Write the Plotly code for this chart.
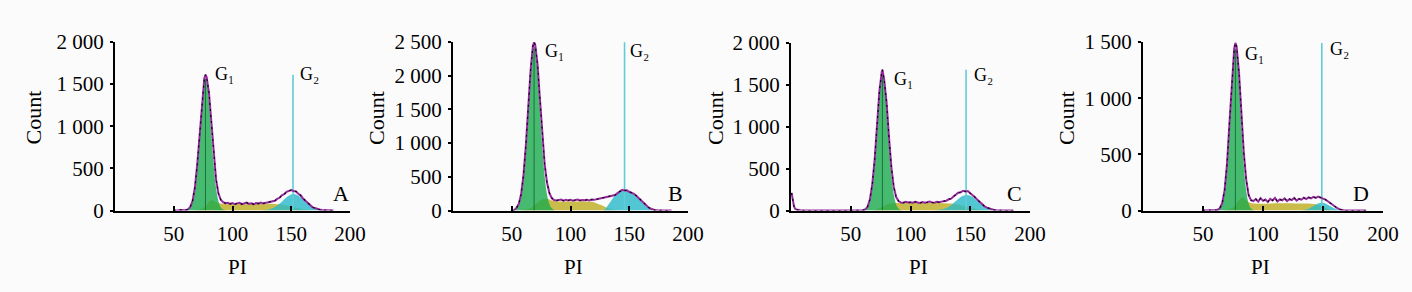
import plotly.graph_objects as go

# ---------------- DATA ----------------
PANELS = ["A", "B", "C", "D"]
Y_MAX = [2000, 2500, 2000, 1500]
Y_TICKVALS = [[0, 500, 1000, 1500, 2000],
              [0, 500, 1000, 1500, 2000, 2500],
              [0, 500, 1000, 1500, 2000],
              [0, 500, 1000, 1500]]
Y_TICKTEXT = [["0", "500", "1 000", "1 500", "2 000"],
              ["0", "500", "1 000", "1 500", "2 000", "2 500"],
              ["0", "500", "1 000", "1 500", "2 000"],
              ["0", "500", "1 000", "1 500"]]
X_TICKVALS = [50, 100, 150, 200]
X_TICKTEXT = ["50", "100", "150", "200"]
G1_MEAN = [77, 69, 76.5, 77]
G2_MEAN = [151.5, 146, 146.5, 149]
G1_LABEL = "G₁"
G2_LABEL = "G₂"

# Panel A
A_tot_x = [50, 52, 54, 56, 58, 60, 62, 64, 66, 68, 70, 72, 74, 76, 77, 78, 80, 82, 84, 86, 88, 90, 92, 94,
           96, 98, 100, 102, 104, 106, 108, 110, 112, 114, 116, 118, 120, 122, 124, 126, 128, 130, 132,
           134, 136, 138, 140, 142, 144, 146, 148, 150, 152, 154, 156, 158, 160, 162, 164, 166, 168, 170,
           172, 174, 176, 178, 180, 182, 184, 186]
A_tot_y = [0, 6, 4, 7, 3, 4, 13, 41, 115, 273, 547, 924, 1310, 1568, 1612, 1585, 1394, 1038, 655, 370, 205,
           128, 98, 86, 92, 78, 88, 74, 85, 91, 76, 84, 93, 79, 86, 74, 89, 82, 94, 83, 91, 94, 99, 110,
           116, 137, 151, 180, 193, 221, 228, 242, 231, 226, 199, 180, 143, 118, 85, 65, 41, 29, 17, 11, 5,
           3, 2, 1, 0, 0]
A_g1_x = [60, 62, 64, 66, 68, 70, 72, 74, 76, 77, 78, 80, 82, 84, 86, 88, 90, 92, 94]
A_g1_y = [3, 12, 40, 113, 270, 540, 910, 1287, 1531, 1565, 1531, 1287, 910, 540, 270, 113, 40, 12, 3]
A_s_x = [66, 70, 74, 77, 80, 82, 84, 86, 88, 92, 100, 110, 120, 130, 136, 140, 144, 148, 152, 156, 160,
         164, 168, 172, 176]
A_s_y = [1, 6, 21, 48, 105, 125, 112, 95, 86, 81, 80, 80, 80, 79, 77, 73, 65, 54, 40, 26, 15, 7, 3, 1, 0]
A_g2_x = [122, 126, 130, 134, 138, 142, 146, 149, 152, 155, 158, 162, 166, 170, 174, 178, 182]
A_g2_y = [1, 3, 10, 26, 58, 105, 156, 184, 195, 184, 156, 105, 58, 26, 10, 3, 1]

# Panel B
B_tot_x = [50, 52, 54, 56, 58, 60, 62, 64, 66, 68, 69, 70, 72, 74, 76, 78, 80, 82, 84, 86, 88, 90, 92, 94,
           96, 98, 100, 102, 104, 106, 108, 110, 112, 114, 116, 118, 120, 122, 124, 126, 128, 130, 132,
           134, 136, 138, 140, 142, 144, 146, 148, 150, 152, 154, 156, 158, 160, 162, 164, 166, 168, 170,
           172, 174, 176, 180, 186]
B_tot_y = [0, 4, 38, 100, 245, 525, 965, 1525, 2075, 2440, 2498, 2455, 2160, 1650, 1115, 688, 415, 262,
           185, 156, 148, 150, 162, 145, 158, 149, 160, 146, 155, 163, 148, 157, 151, 160, 149, 162, 158,
           170, 176, 183, 190, 197, 203, 210, 218, 230, 258, 284, 306, 296, 300, 278, 266, 248, 220, 186,
           148, 112, 80, 52, 30, 14, 5, 2, 0, 0, 0]
B_g1_x = [52, 54, 56, 58, 60, 62, 64, 66, 68, 69, 70, 72, 74, 76, 78, 80, 82, 84, 86]
B_g1_y = [9, 32, 95, 238, 513, 948, 1502, 2044, 2384, 2430, 2384, 2044, 1502, 948, 513, 238, 95, 32, 9]
B_s_x = [56, 60, 64, 67, 69, 72, 76, 80, 84, 88, 94, 104, 114, 118, 122, 126, 130, 134, 138, 142]
B_s_y = [1, 6, 22, 45, 70, 120, 165, 175, 150, 138, 135, 134, 132, 128, 108, 80, 48, 20, 6, 0]
B_g2_x = [128, 130, 132, 134, 136, 138, 140, 142, 144, 146, 148, 150, 152, 154, 156, 158, 160, 162, 164,
          166, 168, 170, 172, 174]
B_g2_y = [0, 30, 80, 130, 180, 222, 252, 280, 298, 292, 290, 272, 260, 242, 214, 182, 144, 108, 76, 49,
          27, 12, 4, 0]

# Panel C
C_tot_x = [0.5, 1.5, 2.5, 3.5, 5, 8, 12, 50, 52, 54, 56, 58, 60, 62, 64, 66, 68, 70, 72, 74, 76, 76.5, 78,
           80, 82, 84, 86, 88, 90, 92, 94, 96, 98, 100, 102, 104, 106, 108, 110, 112, 114, 116, 118, 120,
           122, 124, 126, 128, 130, 132, 134, 136, 138, 140, 142, 144, 146, 148, 150, 152, 154, 156, 158,
           160, 162, 164, 166, 168, 170, 172, 174, 176, 178, 186]
C_tot_y = [210, 120, 50, 20, 8, 3, 0, 0, 0, 2, 0, 1, 3, 12, 43, 130, 312, 607, 1026, 1432, 1660, 1680, 1560,
           1289, 877, 516, 281, 161, 112, 95, 92, 103, 95, 99, 92, 104, 96, 90, 101, 94, 99, 106, 97, 92,
           103, 99, 106, 110, 117, 134, 141, 168, 188, 212, 218, 236, 228, 232, 205, 184, 157, 127, 98, 72,
           50, 34, 22, 13, 7, 4, 2, 1, 0, 0]
C_g1_x = [60.5, 62.5, 64.5, 66.5, 68.5, 70.5, 72.5, 74.5, 76.5, 78.5, 80.5, 82.5, 84.5, 86.5, 88.5, 90.5,
          92.5]
C_g1_y = [4, 16, 54, 153, 359, 696, 1117, 1483, 1630, 1483, 1117, 696, 359, 153, 54, 16, 4]
C_s_x = [66, 70, 74, 76.5, 79, 82, 86, 90, 100, 115, 128, 134, 138, 142, 145, 147, 150, 154, 158, 162, 166,
         170]
C_s_y = [1, 7, 26, 45, 64, 80, 88, 90, 90, 90, 88, 83, 76, 64, 53, 45, 33, 20, 10, 4, 2, 0]
C_g2_x = [120, 123, 126, 129, 132, 135, 138, 141, 144, 147, 150, 153, 156, 159, 162, 165, 168, 171, 174]
C_g2_y = [2, 5, 12, 25, 46, 76, 112, 148, 175, 185, 175, 148, 112, 76, 46, 25, 12, 5, 2]

# Panel D
D_tot_x = [50, 52, 54, 56, 58, 60, 62, 64, 66, 68, 70, 72, 74, 76, 77, 78, 80, 82, 84, 86, 88, 90, 92, 94,
           96, 98, 100, 102, 104, 106, 108, 110, 112, 114, 116, 118, 120, 122, 124, 126, 128, 130, 132,
           134, 136, 138, 140, 142, 144, 146, 148, 150, 152, 154, 156, 158, 160, 162, 164, 166, 168, 170,
           186]
D_tot_y = [0, 0, 1, 0, 2, 2, 5, 20, 65, 181, 413, 770, 1165, 1440, 1492, 1460, 1228, 858, 515, 275, 138,
           92, 84, 102, 78, 110, 86, 97, 75, 104, 89, 112, 80, 99, 91, 108, 84, 101, 93, 112, 88, 104, 96,
           114, 101, 117, 108, 121, 112, 124, 116, 110, 97, 82, 66, 48, 33, 20, 10, 4, 1, 0, 0]
D_g1_x = [62, 64, 66, 68, 70, 72, 74, 76, 77, 78, 80, 82, 84, 86, 88, 90, 92]
D_g1_y = [4, 18, 63, 177, 406, 755, 1140, 1403, 1440, 1403, 1140, 755, 406, 177, 63, 18, 4]
D_s_x = [66, 70, 74, 77, 80, 83, 86, 89, 92, 100, 115, 130, 140, 145, 149, 152, 155, 158, 162]
D_s_y = [1, 5, 20, 45, 95, 115, 90, 68, 62, 60, 64, 62, 60, 52, 38, 25, 12, 5, 0]
D_g2_x = [133, 136, 139, 142, 145, 148, 149, 151, 154, 157, 160, 163, 166]
D_g2_y = [3, 9, 21, 39, 58, 69, 70, 67, 52, 33, 17, 7, 2]

TOTALS = [(A_tot_x, A_tot_y), (B_tot_x, B_tot_y), (C_tot_x, C_tot_y), (D_tot_x, D_tot_y)]
G1S = [(A_g1_x, A_g1_y), (B_g1_x, B_g1_y), (C_g1_x, C_g1_y), (D_g1_x, D_g1_y)]
SS = [(A_s_x, A_s_y), (B_s_x, B_s_y), (C_s_x, C_s_y), (D_s_x, D_s_y)]
G2S = [(A_g2_x, A_g2_y), (B_g2_x, B_g2_y), (C_g2_x, C_g2_y), (D_g2_x, D_g2_y)]

# ---------------- LAYOUT HELPERS ----------------
W, H = 1412, 292
def px(x):
    return x / W
def py(y):
    return 1 - y / H

X_DOM_PX = [(115, 350), (453, 688), (791, 1030), (1143, 1383)]
Y_TOP_PX = [42, 42, 43, 42]
BASE_PX = 210.5

COUNT_X = [32.5, 376, 715, 1066]
PI_X = [237, 573, 918, 1260]
LETTER_X = [340.5, 675.5, 1014, 1361]
G1_LAB = [(213, 73), (543, 50), (892, 78), (1243, 53)]
G2_LAB = [(298, 73), (628, 50), (972, 74), (1328, 48)]

FONT = "Liberation Serif"
S_COL = "rgb(202,188,74)"
G1_COL = "rgba(25,170,75,0.80)"
G2_COL = "rgba(40,185,200,0.80)"
TOT_COL = "rgb(150,40,160)"
G2LINE_COL = "rgb(95,205,215)"
G1LINE_COL = "rgb(25,115,60)"

fig = go.Figure()
layout = dict(
    width=W, height=H, margin=dict(l=0, r=0, t=0, b=0, autoexpand=False),
    paper_bgcolor="#fbfbfb", plot_bgcolor="rgba(0,0,0,0)",
    showlegend=False, font=dict(family=FONT, color="black"),
    annotations=[],
)

for i, name in enumerate(PANELS):
    xa = "x" if i == 0 else f"x{i+1}"
    ya = "y" if i == 0 else f"y{i+1}"
    tx, ty = TOTALS[i]
    g1x, g1y = G1S[i]
    sx, sy = SS[i]
    g2x, g2y = G2S[i]

    fig.add_trace(go.Scatter(x=sx, y=sy, xaxis=xa, yaxis=ya, mode="lines", fill="tozeroy",
                             fillcolor=S_COL, line=dict(width=0, shape="spline"), hoverinfo="skip"))
    fig.add_trace(go.Scatter(x=g1x, y=g1y, xaxis=xa, yaxis=ya, mode="lines", fill="tozeroy",
                             fillcolor=G1_COL, line=dict(width=0, shape="spline"), hoverinfo="skip"))
    fig.add_trace(go.Scatter(x=g2x, y=g2y, xaxis=xa, yaxis=ya, mode="lines", fill="tozeroy",
                             fillcolor=G2_COL, line=dict(width=0, shape="spline"), hoverinfo="skip"))
    fig.add_trace(go.Scatter(x=[G1_MEAN[i], G1_MEAN[i]], y=[0, max(g1y)], xaxis=xa, yaxis=ya,
                             mode="lines", line=dict(width=1, color=G1LINE_COL), hoverinfo="skip"))
    fig.add_trace(go.Scatter(x=[G2_MEAN[i], G2_MEAN[i]], y=[0, max(ty)], xaxis=xa, yaxis=ya,
                             mode="lines", line=dict(width=1.6, color=G2LINE_COL), hoverinfo="skip"))
    fig.add_trace(go.Scatter(x=tx, y=ty, xaxis=xa, yaxis=ya, mode="lines",
                             line=dict(width=2, color=TOT_COL), hoverinfo="skip"))
    fig.add_trace(go.Scatter(x=tx, y=ty, xaxis=xa, yaxis=ya, mode="lines",
                             line=dict(width=1.1, color="black", dash="2px,4px"), hoverinfo="skip"))

    x0, x1 = X_DOM_PX[i]
    xkey = "xaxis" if i == 0 else f"xaxis{i+1}"
    ykey = "yaxis" if i == 0 else f"yaxis{i+1}"
    layout[xkey] = dict(
        domain=[px(x0), px(x1)], anchor=ya, range=[0, 200], automargin=False,
        tickvals=X_TICKVALS, ticktext=X_TICKTEXT, ticks="inside", ticklen=5, tickwidth=2,
        tickcolor="black", showline=True, linecolor="black", linewidth=2, showgrid=False,
        zeroline=False, tickfont=dict(family=FONT, size=21, color="black"), ticklabelstandoff=3,
    )
    layout[ykey] = dict(
        domain=[py(BASE_PX), py(Y_TOP_PX[i])], anchor=xa, range=[0, Y_MAX[i]], automargin=False,
        tickvals=Y_TICKVALS[i], ticktext=Y_TICKTEXT[i], ticks="outside", ticklen=3, tickwidth=2,
        tickcolor="black", showline=True, linecolor="black", linewidth=2, showgrid=False,
        zeroline=False, tickfont=dict(family=FONT, size=21, color="black"), ticklabelstandoff=2,
    )
    ann = layout["annotations"]
    ann.append(dict(text="Count", x=px(COUNT_X[i]), y=py(118), xref="paper", yref="paper",
                    textangle=-90, showarrow=False, xanchor="center", yanchor="middle",
                    font=dict(family=FONT, size=22, color="black")))
    ann.append(dict(text="PI", x=px(PI_X[i]), y=py(267), xref="paper", yref="paper",
                    showarrow=False, xanchor="center", yanchor="middle",
                    font=dict(family=FONT, size=21, color="black")))
    ann.append(dict(text=name, x=px(LETTER_X[i]), y=py(193), xref="paper", yref="paper",
                    showarrow=False, xanchor="center", yanchor="middle",
                    font=dict(family=FONT, size=22, color="black")))
    ann.append(dict(text=G1_LABEL, x=px(G1_LAB[i][0]), y=py(G1_LAB[i][1] + 1), xref="paper",
                    yref="paper", showarrow=False, xanchor="left", yanchor="middle",
                    font=dict(family=FONT, size=18, color="black")))
    ann.append(dict(text=G2_LABEL, x=px(G2_LAB[i][0]), y=py(G2_LAB[i][1] + 1), xref="paper",
                    yref="paper", showarrow=False, xanchor="left", yanchor="middle",
                    font=dict(family=FONT, size=18, color="black")))

fig.update_layout(**layout)
fig.write_html("out.html", config={"displayModeBar": False},
               post_script="document.body.style.margin='0';document.body.style.overflow='hidden';")
